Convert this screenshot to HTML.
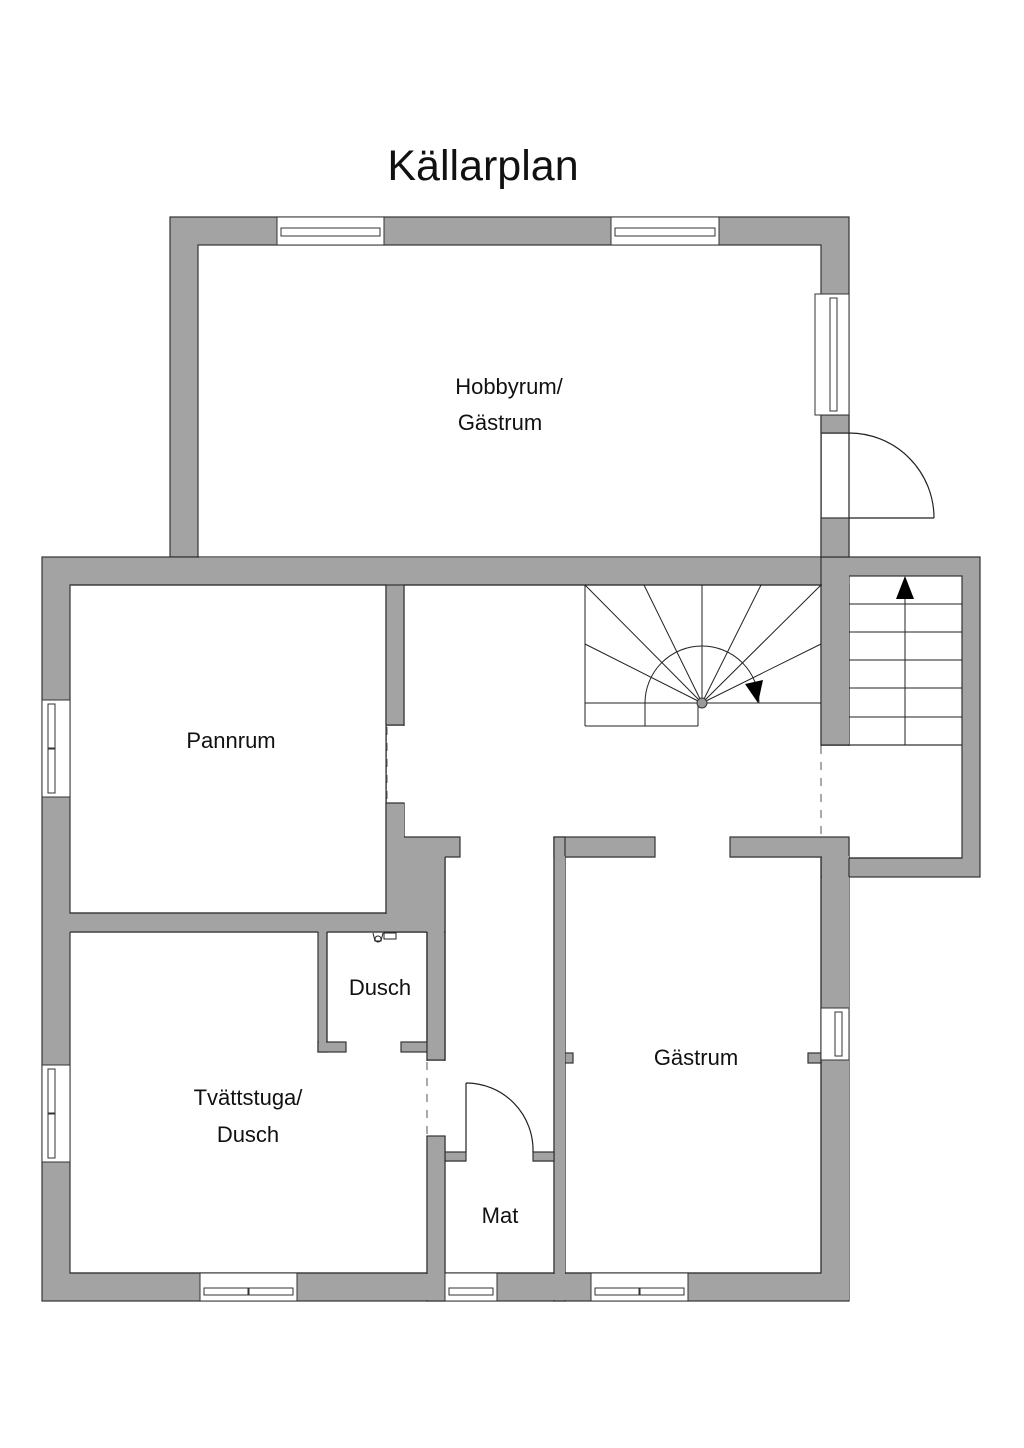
<!DOCTYPE html>
<html><head><meta charset="utf-8"><style>
html,body{margin:0;padding:0;background:#fff;}
svg{display:block;}
text{font-family:"Liberation Sans",sans-serif;fill:#111;}
</style></head><body>
<svg width="1024" height="1448" viewBox="0 0 1024 1448" xmlns="http://www.w3.org/2000/svg">
<text x="483" y="180" font-size="43" text-anchor="middle">Källarplan</text>

<g fill="#a3a3a3" stroke="#333" stroke-width="1.2">
 <rect x="170" y="217" width="679" height="340"/>
 <rect x="42" y="557" width="807" height="744"/>
 <rect x="821" y="557" width="159" height="320"/>
</g>
<g fill="#fff" stroke="#333" stroke-width="1.2">
 <rect x="198" y="245" width="623" height="312"/>
 <rect x="70" y="585" width="316" height="328"/>
 <rect x="70" y="932" width="357" height="341"/>
 <rect x="404" y="585" width="417" height="252"/>
 <rect x="445" y="837" width="109" height="315"/>
 <rect x="445" y="1161" width="109" height="112"/>
 <rect x="565" y="857" width="256" height="416"/>
 <rect x="849" y="576" width="113" height="282"/>
</g>
<g fill="#fff" stroke="none">
 <rect x="405" y="586" width="415" height="251"/>
 <rect x="446" y="836" width="107" height="317"/>
 <rect x="387" y="726" width="20" height="77"/>
 <rect x="655" y="836" width="75" height="22"/>
 <rect x="820" y="746" width="30" height="92"/>
 <rect x="426" y="1061" width="20" height="75"/>
 <rect x="346" y="1042" width="55" height="11"/>
 <rect x="466" y="1151" width="67" height="11"/>
 <rect x="822" y="434" width="28" height="84"/>
 <rect x="199" y="550" width="621" height="8"/>
</g>
<g fill="#a3a3a3" stroke="#333" stroke-width="1.2">
 <rect x="386" y="585" width="18" height="140"/>
 <polygon points="386,803 404,803 404,837 460,837 460,857 445,857 445,932 386,932"/>
 <rect x="554" y="837" width="101" height="20"/>
 <rect x="730" y="837" width="119" height="20"/>
 <rect x="554" y="837" width="11" height="464"/>
 <rect x="821" y="585" width="28" height="160"/>
 <rect x="445" y="1152" width="21" height="9"/>
 <rect x="533" y="1152" width="21" height="9"/>
 <rect x="565" y="1053" width="8" height="10"/>
 <rect x="808" y="1053" width="13" height="10"/>
 <rect x="318" y="932" width="9" height="120"/>
 <rect x="318" y="1042" width="28" height="10"/>
 <rect x="401" y="1042" width="26" height="10"/>
 <rect x="427" y="932" width="18" height="128"/>
 <rect x="427" y="1136" width="18" height="165"/>
 <rect x="821" y="415" width="28" height="18"/>
 <rect x="821" y="518" width="28" height="39"/>
</g>
<g fill="#a3a3a3" stroke="none">
 <rect x="387" y="804" width="17" height="34"/>
 <rect x="387" y="838" width="58" height="93"/>
 <rect x="43" y="914" width="400" height="18"/>
 <rect x="319" y="931" width="7" height="115"/>
 <rect x="428" y="930" width="16" height="129"/>
 <rect x="555" y="856" width="10" height="444"/>
 <rect x="822" y="856" width="27" height="444"/>
 <rect x="428" y="1160" width="16" height="140"/>
 <rect x="822" y="558" width="27" height="187"/>
 <rect x="43" y="1274" width="806" height="26"/>
</g>
<g fill="none" stroke="#333" stroke-width="1.2">
 <line x1="70" y1="913" x2="386" y2="913"/>
 <line x1="70" y1="932" x2="318" y2="932"/>
 <line x1="327" y1="932" x2="427" y2="932"/>
 <line x1="327" y1="932" x2="327" y2="1042"/>
 <line x1="427" y1="932" x2="427" y2="1042"/>
 <line x1="445" y1="857" x2="445" y2="1060"/>
 <line x1="70" y1="1273" x2="427" y2="1273"/>
 <line x1="445" y1="1273" x2="554" y2="1273"/>
 <line x1="565" y1="1273" x2="821" y2="1273"/>
 <line x1="821" y1="857" x2="821" y2="1273"/>
 <line x1="849" y1="858" x2="962" y2="858"/>
 <line x1="849" y1="858" x2="849" y2="877"/>
 <line x1="198" y1="557" x2="821" y2="557"/>
 <line x1="70" y1="585" x2="386" y2="585"/>
 <line x1="404" y1="585" x2="821" y2="585"/>
 <line x1="821" y1="745" x2="849" y2="745"/>
 <line x1="849" y1="745" x2="962" y2="745"/>
</g>
<g stroke="#555" stroke-width="1" stroke-dasharray="8,8" fill="none">
 <line x1="387" y1="727" x2="387" y2="803"/>
 <line x1="821" y1="746" x2="821" y2="836"/>
 <line x1="427" y1="1062" x2="427" y2="1136"/>
</g>
<g fill="none" stroke="#222" stroke-width="1.2">
 <line x1="849" y1="433" x2="849" y2="518"/>
 <line x1="849" y1="518" x2="934" y2="518"/>
 <path d="M849,433 A85,85 0 0 1 934,518"/>
 <line x1="466" y1="1083" x2="466" y2="1152"/>
 <path d="M466,1083 A67,67 0 0 1 533,1152"/>
</g>
<g fill="#fff" stroke="#333" stroke-width="1">
 <rect x="277" y="217" width="107" height="28"/>
 <rect x="281" y="228" width="99" height="8"/>
 <rect x="611" y="217" width="108" height="28"/>
 <rect x="615" y="228" width="100" height="8"/>
 <rect x="815" y="294" width="34" height="121"/>
 <rect x="830" y="298" width="7" height="113"/>
 <rect x="821" y="1008" width="28" height="52"/>
 <rect x="835" y="1012" width="7" height="44"/>
 <rect x="42" y="700" width="28" height="97"/>
 <rect x="48" y="704" width="7" height="44"/><rect x="48" y="749" width="7" height="44"/>
 <rect x="42" y="1065" width="28" height="97"/>
 <rect x="48" y="1069" width="7" height="44"/><rect x="48" y="1114" width="7" height="44"/>
 <rect x="200" y="1273" width="97" height="28"/>
 <rect x="204" y="1288" width="44" height="7"/><rect x="249" y="1288" width="44" height="7"/>
 <rect x="445" y="1273" width="52" height="28"/>
 <rect x="449" y="1288" width="44" height="7"/>
 <rect x="591" y="1273" width="97" height="28"/>
 <rect x="595" y="1288" width="44" height="7"/><rect x="640" y="1288" width="44" height="7"/>
</g>
<g fill="none" stroke="#222" stroke-width="1">
 <line x1="585" y1="585" x2="585" y2="726"/>
 <line x1="585" y1="703" x2="821" y2="703"/>
 <line x1="585" y1="726" x2="698" y2="726"/>
 <line x1="698" y1="703" x2="698" y2="726"/>
 <line x1="645" y1="703" x2="645" y2="726"/>
 <line x1="702" y1="703" x2="585" y2="585"/>
 <line x1="702" y1="703" x2="644" y2="585"/>
 <line x1="702" y1="703" x2="702" y2="585"/>
 <line x1="702" y1="703" x2="761" y2="585"/>
 <line x1="702" y1="703" x2="821" y2="585"/>
 <line x1="702" y1="703" x2="585" y2="644"/>
 <line x1="702" y1="703" x2="821" y2="644"/>
 <path d="M645,703 A57,57 0 0 1 759,703"/>
</g>
<circle cx="702" cy="703" r="5" fill="#999" stroke="#333"/>
<polygon points="745,684 763,680 758,703" fill="#000"/>
<g fill="none" stroke="#222" stroke-width="1">
 <line x1="849" y1="604" x2="962" y2="604"/>
 <line x1="849" y1="632" x2="962" y2="632"/>
 <line x1="849" y1="660" x2="962" y2="660"/>
 <line x1="849" y1="688" x2="962" y2="688"/>
 <line x1="849" y1="717" x2="962" y2="717"/>
 <line x1="905" y1="590" x2="905" y2="745"/>
</g>
<polygon points="905,576 896,599 914,599" fill="#000"/>
<g fill="none" stroke="#222" stroke-width="1">
 <rect x="384" y="933" width="12" height="6"/>
 <path d="M373,933 l2,8 l6,0 l2,-8"/>
 <circle cx="378" cy="939" r="3"/>
</g>
<g font-size="22" text-anchor="middle">
 <text x="509" y="394">Hobbyrum/</text>
 <text x="500" y="430">Gästrum</text>
 <text x="231" y="748">Pannrum</text>
 <text x="380" y="995">Dusch</text>
 <text x="248" y="1105">Tvättstuga/</text>
 <text x="248" y="1142">Dusch</text>
 <text x="500" y="1223">Mat</text>
 <text x="696" y="1065">Gästrum</text>
</g>
</svg>
</body></html>
